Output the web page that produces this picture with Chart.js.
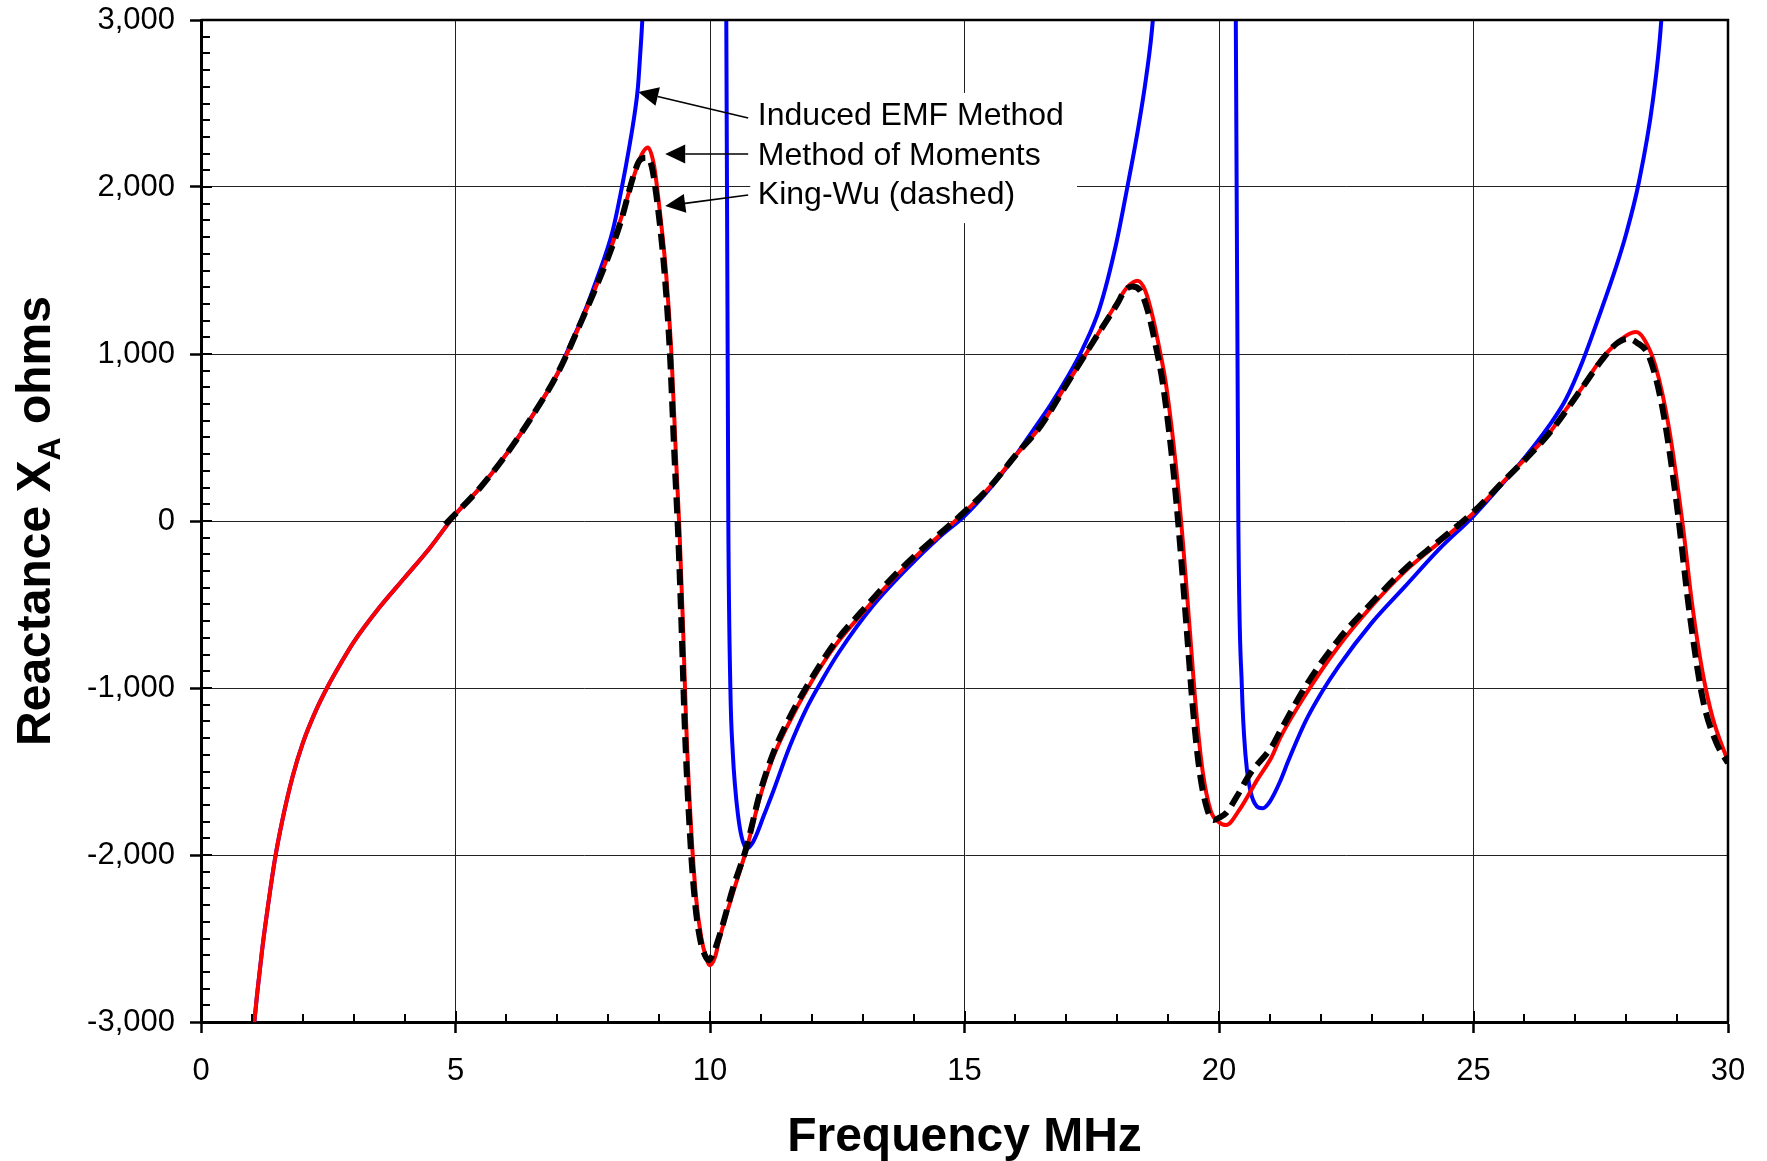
<!DOCTYPE html>
<html><head><meta charset="utf-8">
<script src="https://cdn.jsdelivr.net/npm/chart.js@4/dist/chart.umd.min.js"></script>
<style>html,body{margin:0;padding:0;background:#fff;}#wrap{width:1767px;height:1161px;position:relative;}</style>
</head><body><div id="wrap"><canvas id="c" width="1767" height="1161"></canvas></div>
<script>
const FONT = '"Liberation Sans", Arial, Helvetica, sans-serif';

// ---- Method of Moments (red) ----
const momFreq = [1.0,1.1,1.2,1.3,1.45,1.6,1.8,2.0,2.25,2.5,2.75,3.0,3.5,4.0,4.5,5.0,5.5,6.0,6.5,7.0,7.5,8.0,8.25,8.5,8.65,8.78,8.9,9.0,9.14,9.24,9.34,9.4,9.47,9.53,9.63,9.73,9.83,9.92,10.0,10.1,10.19,10.45,10.72,10.98,11.23,11.5,12.0,12.5,13.0,13.5,14.0,14.5,15.0,15.5,16.0,16.5,17.0,17.32,17.65,18.0,18.2,18.4,18.55,18.7,18.85,18.96,19.16,19.29,19.42,19.55,19.68,19.84,20.0,20.14,20.4,20.75,21.04,21.2,21.7,22.35,23.0,23.66,24.32,25.0,25.5,25.83,26.49,26.81,27.14,27.47,27.8,28.0,28.19,28.35,28.58,28.84,29.11,29.3,29.5,29.7,30.0];
const momX = [-3150,-2840,-2570,-2340,-2030,-1790,-1530,-1330,-1140,-985,-850,-725,-520,-340,-160,40,205,400,625,880,1215,1590,1810,2060,2190,2237,2130,1893,1473,1015,328,-53,-626,-1198,-1847,-2267,-2496,-2610,-2660,-2610,-2496,-2229,-1962,-1656,-1423,-1240,-960,-730,-550,-380,-225,-88,53,205,390,570,816,967,1135,1310,1400,1438,1380,1219,1000,816,312,-124,-628,-1132,-1502,-1737,-1804,-1821,-1730,-1550,-1410,-1300,-1040,-750,-510,-300,-130,48,208,314,527,665,802,954,1061,1110,1131,1090,924,558,-21,-509,-905,-1180,-1440];

// ---- King-Wu (black dashed) ----
const kwFreq = [4.8,5.5,6.0,6.5,7.0,7.5,8.0,8.25,8.5,8.62,8.75,8.85,8.97,9.11,9.21,9.31,9.37,9.44,9.5,9.6,9.7,9.8,9.9,9.97,10.05,10.19,10.45,10.72,10.98,11.23,11.5,12.0,12.5,13.0,13.5,14.0,14.5,15.0,15.5,16.0,16.5,17.0,17.5,18.0,18.15,18.3,18.45,18.6,18.75,18.9,19.1,19.23,19.36,19.49,19.62,19.78,19.9,20.0,20.15,20.35,20.6,21.04,21.2,21.7,22.35,23.0,23.66,24.32,25.0,25.5,26.5,27.14,27.5,27.8,28.03,28.2,28.45,28.71,28.98,29.24,29.5,29.76,30.0];
const kwX = [-20,205,400,625,880,1215,1580,1795,2070,2160,2175,2130,1893,1473,1015,328,-53,-626,-1198,-1847,-2267,-2496,-2600,-2630,-2600,-2480,-2200,-1950,-1630,-1400,-1215,-940,-710,-535,-365,-215,-80,55,205,392,570,815,1060,1300,1380,1404,1380,1260,1060,816,312,-124,-628,-1132,-1502,-1737,-1790,-1777,-1745,-1650,-1518,-1350,-1260,-990,-710,-490,-285,-120,55,210,530,800,955,1060,1091,1070,985,680,131,-540,-1060,-1320,-1450];

// ---- Induced EMF (blue); null = off-scale gap ----
const emfFreq = [1.0,1.1,1.2,1.3,1.45,1.6,1.8,2.0,2.25,2.5,2.75,3.0,3.5,4.0,4.5,5.0,5.5,6.0,6.5,7.0,7.26,7.5,7.76,8.09,8.27,8.42,8.52,8.585,8.63,8.67,8.72,9.5,10.28,10.32,10.36,10.40,10.45,10.49,10.55,10.62,10.72,10.82,10.91,11.05,11.23,11.56,11.89,12.22,12.54,13.2,13.85,14.51,15.0,15.5,16.0,16.34,16.7,17.0,17.32,17.65,17.98,18.2,18.4,18.57,18.7,18.78,19.5,20.29,20.33,20.38,20.45,20.52,20.6,20.7,20.86,21.0,21.2,21.37,21.7,22.03,22.35,23.0,23.66,24.32,25.0,25.5,25.83,26.49,26.81,27.14,27.47,27.8,28.0,28.25,28.52,28.69,28.76];
const emfX = [-3150,-2840,-2570,-2340,-2030,-1790,-1530,-1330,-1140,-985,-850,-725,-520,-340,-160,40,205,400,625,880,1060,1225,1435,1740,2000,2250,2440,2600,2800,3000,3400,null,3600,3000,0,-1000,-1400,-1580,-1760,-1890,-1962,-1935,-1881,-1770,-1629,-1355,-1126,-943,-783,-508,-291,-96,30,195,390,540,700,850,1030,1270,1660,2000,2330,2660,3000,3400,null,3600,3000,0,-1000,-1400,-1590,-1690,-1720,-1680,-1560,-1430,-1200,-1020,-870,-610,-390,-170,30,200,314,573,726,954,1229,1520,1720,2030,2509,3000,3400];

const seriesNames = ['King-Wu (dashed)','Method of Moments','Induced EMF Method'];
const xTitle = 'Frequency MHz';
const yTitleParts = ['Reactance X','A',' ohms'];
const noteLines = ['Induced EMF Method','Method of Moments','King-Wu (dashed)'];

function pts(fs, vs){ return fs.map((f,i)=>({x:f, y:vs[i]})); }

const deco = {
  id:'deco',
  beforeDraw(chart){
    const c = chart.ctx; c.save(); c.fillStyle='#fff'; c.fillRect(0,0,chart.width,chart.height); c.restore();
  },
  afterDraw(chart){
    const c = chart.ctx, a = chart.chartArea, xs = chart.scales.x, ys = chart.scales.y;
    c.save();
    c.strokeStyle='#000'; c.lineWidth=2.5;
    c.beginPath(); c.moveTo(a.left, a.top); c.lineTo(a.right, a.top); c.lineTo(a.right, a.bottom); c.stroke();
    c.lineWidth=2;
    for(let v=-3000; v<=3000; v+=100){
      const py = Math.round(ys.getPixelForValue(v));
      const len = (v%1000===0)?11:9;
      c.beginPath(); c.moveTo(a.left, py); c.lineTo(a.left+len, py); c.stroke();
    }
    for(let f=0; f<=30; f+=1){
      const px = Math.round(xs.getPixelForValue(f));
      const len = (f%5===0)?11:8;
      c.beginPath(); c.moveTo(px, a.bottom); c.lineTo(px, a.bottom-len); c.stroke();
    }
    c.fillStyle='#000'; c.textAlign='center'; c.textBaseline='alphabetic';
    c.font = 'bold 48px '+FONT;
    c.fillText(xTitle, (a.left+a.right)/2, 1151);
    const fMain='bold 48px '+FONT, fSub='bold 32px '+FONT;
    c.font=fMain; const w1=c.measureText(yTitleParts[0]).width, w3=c.measureText(yTitleParts[2]).width;
    c.font=fSub; const w2=c.measureText(yTitleParts[1]).width;
    const tot=w1+w2+w3;
    c.translate(50,(a.top+a.bottom)/2); c.rotate(-Math.PI/2);
    c.textAlign='left';
    let sx=-tot/2;
    c.font=fMain; c.fillText(yTitleParts[0], sx, 0); sx+=w1;
    c.font=fSub; c.fillText(yTitleParts[1], sx, 10); sx+=w2;
    c.font=fMain; c.fillText(yTitleParts[2], sx, 0);
    c.restore();

    c.save();
    const X = v=>xs.getPixelForValue(v), Y = v=>ys.getPixelForValue(v);
    const bx0=X(10.79), bx1=X(17.21), by0=Y(2563), by1=Y(1784);
    c.fillStyle='#fff'; c.fillRect(bx0,by0,bx1-bx0,by1-by0);
    c.fillStyle='#000'; c.font='32px '+FONT; c.textAlign='left'; c.textBaseline='alphabetic';
    const baseV=[2371,2132,1898];
    noteLines.forEach((t,i)=>c.fillText(t, X(10.94), Y(baseV[i])));
    const arrows=[[10.75,2413,8.59,2569],[10.75,2198,9.12,2198],[10.75,1952,9.12,1886]];
    c.strokeStyle='#000'; c.lineWidth=1.6;
    arrows.forEach(([f0,v0,f1,v1])=>{
      const x0=X(f0),y0=Y(v0),x1=X(f1),y1=Y(v1);
      const ang=Math.atan2(y1-y0,x1-x0), L=20, H=9.5;
      const bxp=x1-L*Math.cos(ang), byp=y1-L*Math.sin(ang);
      c.beginPath(); c.moveTo(x0,y0); c.lineTo(bxp,byp); c.stroke();
      c.beginPath(); c.moveTo(x1,y1);
      c.lineTo(bxp+H*Math.sin(ang), byp-H*Math.cos(ang));
      c.lineTo(bxp-H*Math.sin(ang), byp+H*Math.cos(ang));
      c.closePath(); c.fill();
    });
    c.restore();
  }
};

const chart = new Chart(document.getElementById('c'), {
  type:'line',
  data:{datasets:[
    {label:seriesNames[0], data:pts(kwFreq,kwX), borderColor:'#000', borderWidth:6, borderDash:[16,8], pointRadius:0, fill:false, cubicInterpolationMode:'monotone', order:0},
    {label:seriesNames[1], data:pts(momFreq,momX), borderColor:'#ff0000', borderWidth:4, pointRadius:0, fill:false, cubicInterpolationMode:'monotone', order:1},
    {label:seriesNames[2], data:pts(emfFreq,emfX), borderColor:'#0000ff', borderWidth:4, pointRadius:0, fill:false, cubicInterpolationMode:'monotone', spanGaps:false, order:2}
  ]},
  options:{
    responsive:false, animation:false, devicePixelRatio:1,
    layout:{padding:{top:20,right:39,left:0,bottom:0}},
    plugins:{legend:{display:false}, tooltip:{enabled:false}},
    scales:{
      x:{type:'linear', min:0, max:30,
        ticks:{stepSize:5, color:'#000', font:{family:FONT,size:31}, padding:20, maxRotation:0},
        grid:{color:'#222', lineWidth:1, tickLength:11, tickWidth:2.5, tickColor:'#000', drawTicks:true},
        border:{display:true, color:'#000', width:3},
        afterFit(s){ s.height=139; s.paddingLeft=0; s.paddingRight=0; }
      },
      y:{type:'linear', min:-3000, max:3000,
        ticks:{stepSize:1000, color:'#000', font:{family:FONT,size:31}, padding:15},
        grid:{color:'#222', lineWidth:1, tickLength:11, tickWidth:2.5, tickColor:'#000', drawTicks:true},
        border:{display:true, color:'#000', width:3},
        afterFit(s){ s.width=201; s.paddingTop=0; s.paddingBottom=0; }
      }
    }
  },
  plugins:[deco]
});
</script></body></html>
